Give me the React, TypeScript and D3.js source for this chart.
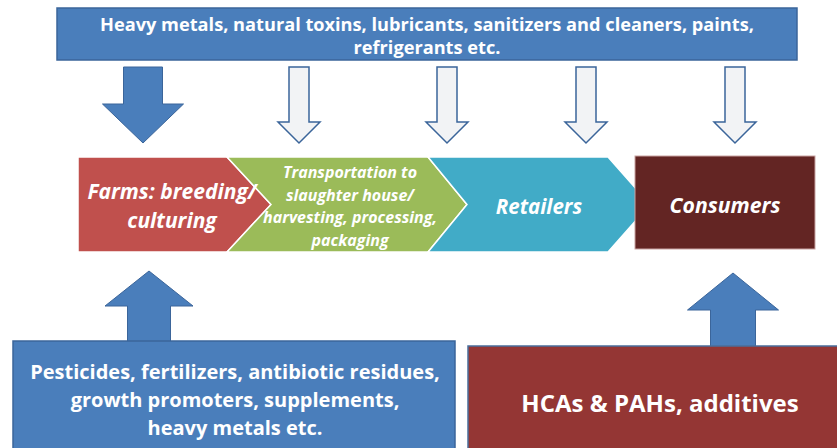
import * as d3 from "d3";
import React, { useRef, useEffect } from "react";

// text content
const topLines = [
  "Heavy metals, natural toxins, lubricants, sanitizers and cleaners, paints,",
  "refrigerants etc.",
];
const farmLines = [
  "Pesticides, fertilizers, antibiotic residues,",
  "growth promoters, supplements,",
  "heavy metals etc.",
];
const consumerLines = ["HCAs & PAHs, additives"];

const stageNames = ["farms", "transport", "retail", "consumers"];
const stageLabels = [
  ["Farms: breeding/", "culturing"],
  ["Transportation to", "slaughter house/", "harvesting, processing,", "packaging"],
  ["Retailers"],
  ["Consumers"],
];
const stageColors = ["#c0504d", "#9bbb59", "#41abc7", "#632523"];

// which down arrows are heavy (solid) vs light (outlined)
const downArrowKinds = ["heavy", "light", "light", "light", "light"];

const W = 837;
const H = 448;
const FONT = "'Open Sans', Lato, sans-serif";

function App() {
  const ref = useRef(null);

  useEffect(() => {
    document.body.style.margin = "0";
    const svg = d3.select(ref.current);
    svg.selectAll("*").remove();

    const line = d3.line();

    // top source box
    const top = svg.append("g");
    top.append("rect")
      .attr("x", 57).attr("y", 8).attr("width", 740).attr("height", 52)
      .attr("fill", "#4a7ebb").attr("stroke", "#3b659a").attr("stroke-width", 1.5);
    top.selectAll("text")
      .data(topLines)
      .enter().append("text")
      .attr("x", 427)
      .attr("y", (d, i) => 31 + i * 23)
      .attr("text-anchor", "middle")
      .attr("fill", "white")
      .attr("font-family", FONT)
      .attr("font-weight", "bold")
      .attr("font-size", 18.2)
      .text(d => d);

    // down arrows
    const arrowCenters = [143, 299, 447, 586, 735];

    downArrowKinds.forEach((kind, i) => {
      const cx = arrowCenters[i];
      const heavy = kind === "heavy";
      const sw = heavy ? 19.5 : 10;
      const hw = heavy ? 40.5 : 21;
      const yTop = 67;
      const yHead = heavy ? 104 : 122;
      const yTip = 143;
      const pts = [
        [cx - sw, yTop], [cx + sw, yTop], [cx + sw, yHead], [cx + hw, yHead],
        [cx, yTip], [cx - hw, yHead], [cx - sw, yHead],
      ];
      svg.append("path")
        .attr("d", line(pts) + "Z")
        .attr("fill", heavy ? "#4a7ebb" : "#f2f3f5")
        .attr("stroke", "#3b659a")
        .attr("stroke-width", heavy ? 1 : 1.5)
        .attr("stroke-linejoin", "miter");
    });

    // chevron flow
    const yT = 157, yB = 252, yM = (yT + yB) / 2;
    const shapes = [
      [[78, yT], [227, yT], [271, yM], [227, yB], [78, yB]],
      [[227, yT], [428, yT], [467, yM], [428, yB], [227, yB], [271, yM]],
      [[428, yT], [608, yT], [650, yM], [608, yB], [428, yB], [467, yM]],
    ];
    const flow = svg.append("g");
    flow.selectAll("path")
      .data(shapes)
      .enter().append("path")
      .attr("d", d => line(d) + "Z")
      .attr("fill", (d, i) => stageColors[i])
      .attr("stroke", "white")
      .attr("stroke-width", 1.5)
      .attr("stroke-linejoin", "miter");
    flow.append("rect")
      .attr("x", 635).attr("y", 156).attr("width", 180).attr("height", 93)
      .attr("fill", stageColors[3]).attr("stroke", "#c9a3a2").attr("stroke-width", 1);

    const labelPos = [
      { x: 172, y: 199, size: 21, lh: 29 },
      { x: 350, y: 178, size: 16, lh: 22.5 },
      { x: 539, y: 214, size: 20.5, lh: 24 },
      { x: 725, y: 213, size: 21.2, lh: 24 },
    ];
    stageNames.forEach((name, i) => {
      const p = labelPos[i];
      svg.append("g").attr("class", "stage-" + name)
        .selectAll("text")
        .data(stageLabels[i])
        .enter().append("text")
        .attr("x", p.x)
        .attr("y", (d, j) => p.y + j * p.lh)
        .attr("text-anchor", "middle")
        .attr("fill", "white")
        .attr("font-family", FONT)
        .attr("font-weight", "bold")
        .attr("font-style", "italic")
        .attr("font-size", p.size)
        .text(d => d);
    });

    // up arrows
    const upArrow = (cx, yTip, yHead, yBot, sw, hw) => [
      [cx, yTip], [cx + hw, yHead], [cx + sw, yHead], [cx + sw, yBot],
      [cx - sw, yBot], [cx - sw, yHead], [cx - hw, yHead],
    ];
    svg.append("path")
      .attr("d", line(upArrow(149, 271, 306, 342, 21.5, 44)) + "Z")
      .attr("fill", "#4a7ebb").attr("stroke", "#3b659a").attr("stroke-width", 1);
    svg.append("path")
      .attr("d", line(upArrow(733, 273, 310, 347, 22.5, 45.5)) + "Z")
      .attr("fill", "#4a7ebb").attr("stroke", "#3b659a").attr("stroke-width", 1);

    // bottom left box
    const bl = svg.append("g");
    bl.append("rect")
      .attr("x", 13).attr("y", 341).attr("width", 442).attr("height", 120)
      .attr("fill", "#4a7ebb").attr("stroke", "#3b659a").attr("stroke-width", 1.5);
    bl.selectAll("text")
      .data(farmLines)
      .enter().append("text")
      .attr("x", 235)
      .attr("y", (d, i) => 379 + i * 28)
      .attr("text-anchor", "middle")
      .attr("fill", "white")
      .attr("font-family", FONT)
      .attr("font-weight", "bold")
      .attr("font-size", 20)
      .text(d => d);

    // bottom right box
    const br = svg.append("g");
    br.append("rect")
      .attr("x", 468).attr("y", 346).attr("width", 390).attr("height", 120)
      .attr("fill", "#943634").attr("stroke", "#4a6f9c").attr("stroke-width", 1.5);
    br.selectAll("text")
      .data(consumerLines)
      .enter().append("text")
      .attr("x", 660)
      .attr("y", 412)
      .attr("text-anchor", "middle")
      .attr("fill", "white")
      .attr("font-family", FONT)
      .attr("font-weight", "bold")
      .attr("font-size", 24)
      .text(d => d);
  }, []);

  return (
    <svg ref={ref} width={W} height={H} viewBox={`0 0 ${W} ${H}`}
      style={{ display: "block", background: "white" }} />
  );
}

export default App;
